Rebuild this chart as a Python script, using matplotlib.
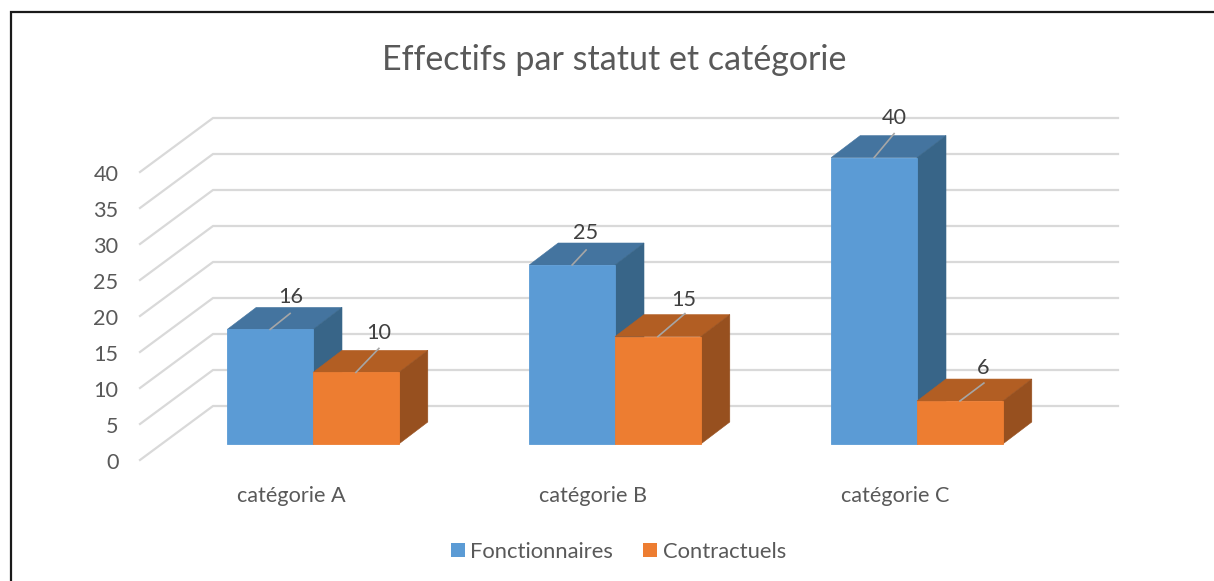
import matplotlib
matplotlib.use("Agg")
import matplotlib.pyplot as plt
from matplotlib.patches import Polygon, Rectangle

categories = ["catégorie A", "catégorie B", "catégorie C"]
series_names = ["Fonctionnaires", "Contractuels"]
fonctionnaires = [16, 25, 40]
contractuels = [10, 15, 6]
y_ticks = [0, 5, 10, 15, 20, 25, 30, 35, 40]
title = "Effectifs par statut et catégorie"

W, H = 1214, 581
plt.rcParams["font.family"] = ["Lato", "DejaVu Sans"]

# layout: data x unit = category spacing; data y unit = value
PX_X = 302.0
PX_Y = 7.16
X0_PX = 313.0
Y0_PX = 444.0
def px(x): return (x - X0_PX) / PX_X
def py(y): return (Y0_PX - y) / PX_Y

fig = plt.figure(figsize=(W / 100, H / 100), dpi=100, facecolor="white")
ax = fig.add_axes([0, 0, 1, 1])
ax.set_xlim(px(0), px(W))
ax.set_ylim(py(H), py(0))
ax.axis("off")

BAR_W = 85.8 / PX_X
DX = 29 / PX_X
DY = 22 / PX_Y
GRID = "#D9D9D9"
TXT = "#595959"
LBL = "#404040"
FS = 15.6

# gridlines on wall + side wall
grid_scale = 7.2 / PX_Y
y_back0 = py(406)
y_front0 = py(460)
x_front = px(140)
x_back = px(213)
x_end = px(1118)
for v in y_ticks:
    off = v * grid_scale
    ax.plot([x_front, x_back, x_end], [y_front0 + off, y_back0 + off, y_back0 + off],
            color=GRID, lw=1.6, solid_joinstyle="miter", zorder=1)
    ax.text(px(118.5), y_front0 + off - 1 / PX_Y, str(v), ha="right", va="center_baseline",
            fontsize=FS, color=TXT, zorder=5)

def bar3d(left, value, front, top, side, z):
    r = left + BAR_W
    ax.add_patch(Polygon([(left, value), (r, value), (r + DX, value + DY), (left + DX, value + DY)],
                         closed=True, fc=top, ec=top, lw=0.4, zorder=z))
    ax.add_patch(Polygon([(r, 0), (r + DX, DY), (r + DX, value + DY), (r, value)],
                         closed=True, fc=side, ec=side, lw=0.4, zorder=z))
    ax.add_patch(Rectangle((left, 0), BAR_W, value, fc=front, ec=front, lw=0.6, zorder=z + 0.5))

BLUE = ("#5B9BD5", "#44749F", "#386588")
ORANGE = ("#ED7D31", "#B25E23", "#97501F")

# data-label leader geometry in pixels: (leader dx, leader rise, label dx, label rise)
LEAD_BLUE = [(20, 16, 21, 34), (14, 15, 13, 34), (20, 24, 20, 42)]
LEAD_ORANGE = [(23, 24, 23, 41), (27, 23, 26, 39), (24, 18, 23, 35)]

for i, (a, b) in enumerate(zip(fonctionnaires, contractuels)):
    bar3d(i - BAR_W, a, *BLUE, 2 + i * 2)
    bar3d(i, b, *ORANGE, 3 + i * 2)
    for left, val, g in ((i - BAR_W, a, LEAD_BLUE[i]), (i, b, LEAD_ORANGE[i])):
        xm = left + BAR_W / 2
        ax.plot([xm, xm + g[0] / PX_X], [val, val + g[1] / PX_Y],
                color="#A6A6A6", lw=1.2, zorder=20)
        ax.text(xm + g[2] / PX_X, val + g[3] / PX_Y, str(val), ha="center", va="center_baseline",
                fontsize=FS, color=LBL, zorder=21)
    ax.text(i - BAR_W + 9.5 / PX_X, py(493.5), categories[i], ha="left", va="center_baseline",
            fontsize=FS, color=TXT, zorder=5)

ax.text(px(614), py(57), title, ha="center", va="center_baseline", fontsize=24.5, color=TXT)

# legend
for name, colour, sx, tx in ((series_names[0], BLUE[0], 451, 470), (series_names[1], ORANGE[0], 643, 663)):
    ax.add_patch(Rectangle((px(sx), py(557)), 14 / PX_X, 14 / PX_Y, fc=colour, ec="none"))
    ax.text(px(tx), py(549.5), name, ha="left", va="center_baseline", fontsize=FS + 0.2, color=TXT)

# outer frame (left and top)
ax.plot([px(10.5), px(10.5), px(W)], [py(H), py(12.5), py(12.5)], color="#1a1a1a", lw=1.6,
        solid_joinstyle="miter", zorder=30)

fig.savefig("out.png", dpi=100)
